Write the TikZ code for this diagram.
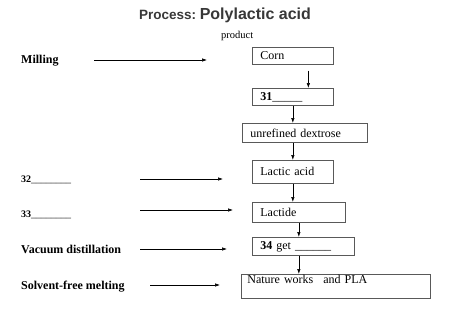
\documentclass[tikz,border=0pt]{standalone}
\usepackage{fontspec}
\setmainfont{Liberation Serif}
\newfontfamily\titlefont{Liberation Sans}
\usetikzlibrary{arrows.meta}
\begin{document}
\begin{tikzpicture}[
   x=1pt,y=-1pt,
   stage/.style={draw=black!65,line width=0.7pt,anchor=north west,inner xsep=8pt,inner ysep=1pt,
     align=left,font=\fontsize{12}{14}\selectfont},
   proc/.style={anchor=base west,inner sep=0pt,font=\fontsize{12}{14}\selectfont\bfseries},
   blank/.style={anchor=base west,inner sep=0pt,font=\fontsize{10}{12}\selectfont},
   feed/.style={line width=0.6pt,-{Latex[length=5pt,width=3.5pt]}}
 ]
  \useasboundingbox (0,0) rectangle (471,321);
  \node[anchor=base,inner sep=0pt,text=black!78,font=\titlefont\bfseries] (title) at (225,19.5)
    {{\fontsize{13.5}{16}\selectfont Process:} {\fontsize{16}{19}\selectfont Polylactic acid}};
  \node[anchor=base west,inner sep=0pt,font=\fontsize{10.5}{12}\selectfont] (prod) at (221,38.5) {product};

  % process chain
  \node[stage,text width=65pt,minimum height=17pt] (corn) at (252,47) {Corn};
  \node[stage,text width=65pt,minimum height=17pt] (c31) at (252,88) {\textbf{31}\_\_\_\_\_};
  \node[stage,text width=109pt,minimum height=19pt] (dex) at (242,123) {unrefined dextrose};
  \node[stage,text width=65pt,minimum height=23pt] (lactic) at (252,160) {Lactic acid};
  \node[stage,text width=77pt,minimum height=20pt] (lactide) at (252,202) {Lactide};
  \node[stage,text width=86pt,minimum height=18pt] (c34) at (252,237) {\textbf{34} get \_\_\_\_\_\_};
  \node[stage,inner xsep=6pt,text width=177pt,text height=8.3pt,text depth=13.7pt] (pla) at (241,274)
    {Nature works\hspace{6pt} and PLA};

  \draw[feed] ([shift={(15.5,6)}]corn.south) -- ([xshift=15.5pt]c31.north);
  \draw[feed] (c31.south) -- (c31.south |- dex.north);
  \draw[feed] (lactic.north |- dex.south) -- (lactic.north);
  \draw[feed] (lactic.south) -- (lactic.south |- lactide.north);
  \draw[feed] (lactide.south) -- (lactide.south |- c34.north);
  \draw[feed] (lactide.south |- c34.south) -- (lactide.south |- pla.north);

  % operations on the left
  \node[proc] (mill) at (21,63.5) {Milling};
  \node[blank] (b32) at (21,182) {\textbf{32}\_\_\_\_\_\_\_\_};
  \node[blank] (b33) at (21,217.5) {\textbf{33}\_\_\_\_\_\_\_\_};
  \node[proc] (vac) at (21,253) {Vacuum distillation};
  \node[proc] (melt) at (21,289) {Solvent-free melting};

  \coordinate (mill0) at (94,60);   \coordinate (mill1) at (207,60);
  \coordinate (b320) at (140,179);  \coordinate (b321) at (223,179);
  \coordinate (b330) at (140,210);  \coordinate (b331) at (233,210);
  \coordinate (vac0) at (140,249);  \coordinate (vac1) at (227,249);
  \coordinate (melt0) at (150,285); \coordinate (melt1) at (220,285);
  \draw[feed] (mill0) -- (mill1);
  \draw[feed] (b320) -- (b321);
  \draw[feed] (b330) -- (b331);
  \draw[feed] (vac0) -- (vac1);
  \draw[feed] (melt0) -- (melt1);
 \end{tikzpicture}
\end{document}
